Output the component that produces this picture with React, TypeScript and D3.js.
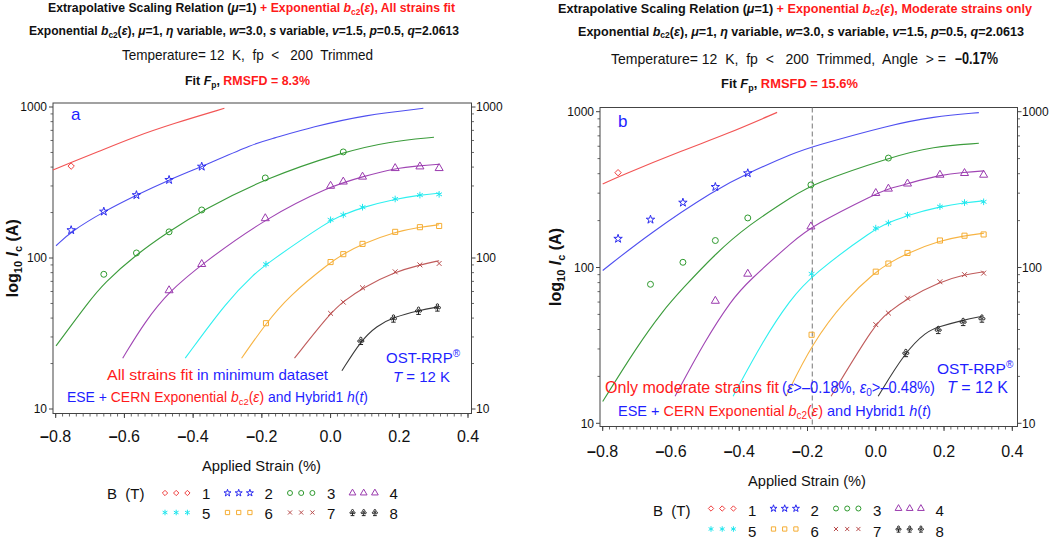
import React from "react";
import * as d3 from "d3";

type Pt = [number, number];

// ---------- axis ticks / categories ----------
const X_TICKS = [-0.8, -0.6, -0.4, -0.2, 0, 0.2, 0.4];
const Y_TICKS = [10, 100, 1000];
const FIELDS = ["1", "2", "3", "4", "5", "6", "7", "8"];
const ANGLE_CUT = -0.186;

// ---------- measured data (identical in both panels) ----------
const obsStrainB1 = [-0.755];
const obsIcB1 = [406];
const obsStrainB2 = [-0.755, -0.66, -0.565, -0.47, -0.375];
const obsIcB2 = [153, 203, 261, 329, 403];
const obsStrainB3 = [-0.66, -0.565, -0.47, -0.375, -0.19, 0.037];
const obsIcB3 = [78, 108, 149, 208, 339, 504];
const obsStrainB4 = [-0.47, -0.375, -0.19, 0.0, 0.037, 0.093, 0.188, 0.26, 0.316];
const obsIcB4 = [61, 91, 183, 300, 320, 345, 393, 403, 393];
const obsStrainB5 = [-0.188, 0.0, 0.037, 0.093, 0.188, 0.26, 0.316];
const obsIcB5 = [91, 179, 193, 217, 246, 261, 264];
const obsStrainB6 = [-0.188, 0.0, 0.037, 0.093, 0.188, 0.26, 0.316];
const obsIcB6 = [37, 94, 106, 124, 149, 160, 163];
const obsStrainB7 = [0.0, 0.037, 0.093, 0.188, 0.26, 0.316];
const obsIcB7 = [43, 51, 63.5, 81, 90, 92];
const obsStrainB8 = [0.088, 0.183, 0.256, 0.311];
const obsIcB8 = [28.3, 39.8, 44.8, 47.1];

// ---------- fit curves, panel a (all strains) ----------
const fitA_B1: Pt[] = [[-0.808, 383], [-0.755, 430], [-0.681, 501], [-0.574, 631], [-0.458, 777], [-0.309, 980]];
const fitA_B2: Pt[] = [[-0.799, 120.5], [-0.755, 150], [-0.66, 203], [-0.565, 261], [-0.47, 329], [-0.375, 403], [-0.22, 575], [-0.176, 611], [-0.05, 741], [0.1, 885], [0.27, 980]];
const fitA_B3: Pt[] = [[-0.799, 26.2], [-0.705, 51], [-0.66, 68], [-0.565, 106], [-0.47, 150], [-0.375, 206], [-0.19, 337], [0.037, 504], [0.168, 589], [0.301, 630]];
const fitA_B4: Pt[] = [[-0.605, 21.7], [-0.54, 38], [-0.47, 60], [-0.375, 91], [-0.19, 183], [0.0, 300], [0.093, 345], [0.188, 393], [0.26, 409], [0.316, 417]];
const fitA_B5: Pt[] = [[-0.423, 21.7], [-0.299, 52.7], [-0.22, 79], [-0.188, 91], [0.0, 179], [0.037, 193], [0.093, 217], [0.188, 246], [0.26, 261], [0.316, 269]];
const fitA_B6: Pt[] = [[-0.259, 21.7], [-0.188, 36.9], [-0.123, 55.5], [0.0, 94], [0.037, 106], [0.093, 124], [0.188, 149], [0.26, 160], [0.316, 166]];
const fitA_B7: Pt[] = [[-0.105, 21.7], [0.0, 43.4], [0.037, 51.4], [0.093, 63.5], [0.188, 81], [0.26, 90], [0.316, 96]];
const fitA_B8: Pt[] = [[0.033, 17.9], [0.088, 28.3], [0.134, 35.5], [0.183, 40.5], [0.256, 45], [0.316, 47.5]];

// ---------- fit curves, panel b (moderate strains only) ----------
const fitB_B1: Pt[] = [[-0.8, 343], [-0.753, 384], [-0.559, 572], [-0.442, 710], [-0.289, 990]];
const fitB_B2: Pt[] = [[-0.8, 95.7], [-0.662, 166], [-0.471, 315], [-0.375, 403], [-0.237, 546], [-0.186, 597], [0.042, 822], [0.168, 929], [0.302, 986]];
const fitB_B3: Pt[] = [[-0.8, 13.8], [-0.7, 31], [-0.623, 53], [-0.569, 72], [-0.471, 122], [-0.375, 186], [-0.237, 292], [-0.186, 343], [0.042, 510], [0.168, 597], [0.302, 627]];
const fitB_B4: Pt[] = [[-0.588, 14.9], [-0.5, 34], [-0.422, 62], [-0.375, 81], [-0.237, 151], [-0.186, 185], [0.003, 300], [0.037, 320], [0.093, 345], [0.188, 393], [0.26, 409], [0.317, 417]];
const fitB_B5: Pt[] = [[-0.418, 14.9], [-0.33, 34], [-0.251, 62], [-0.186, 89.8], [0.0, 179], [0.037, 193], [0.093, 217], [0.188, 246], [0.26, 261], [0.317, 268]];
const fitB_B6: Pt[] = [[-0.263, 14.9], [-0.186, 32.7], [-0.09, 62], [0.0, 94], [0.037, 106], [0.093, 124], [0.188, 149], [0.26, 160], [0.317, 166]];
const fitB_B7: Pt[] = [[-0.131, 14.9], [0.0, 44.4], [0.037, 51.4], [0.085, 62], [0.188, 81], [0.26, 90], [0.317, 94]];
const fitB_B8: Pt[] = [[0.007, 14.9], [0.085, 28.5], [0.149, 38.9], [0.183, 41.5], [0.256, 46], [0.31, 48.5]];

// ---------- styles ----------
const FONT = "'Liberation Sans', Arial, Helvetica, sans-serif";
const RED = "#ff1a1a";
const BLUE = "#1f1fff";
const LINE_COLORS = ["#f25555", "#5050f0", "#3c9c3c", "#a046b4", "#2ef0f0", "#f7b444", "#c05c5c", "#3a3a3a"];
const MARK_COLORS = ["#f04040", "#2b2bf0", "#2f9a2f", "#9a3aae", "#1ee6ee", "#f5ad33", "#b84c4c", "#222222"];

type Ctx = { moveTo: (x: number, y: number) => void; lineTo: (x: number, y: number) => void; arc: (...a: number[]) => void; closePath: () => void };
const mkSym = (fn: (c: Ctx, r: number) => void) => ({ draw(ctx: any, size: number) { fn(ctx, Math.sqrt(size) / 2); } });
const symDiamond = mkSym((c, r) => { const q = r * 1.3; c.moveTo(0, -q); c.lineTo(q, 0); c.lineTo(0, q); c.lineTo(-q, 0); c.closePath(); });
const symAst = mkSym((c, r) => {
  for (let k = 0; k < 3; k++) {
    const a = Math.PI / 2 + (k * Math.PI) / 3;
    c.moveTo(r * 1.25 * Math.cos(a), r * 1.25 * Math.sin(a));
    c.lineTo(-r * 1.25 * Math.cos(a), -r * 1.25 * Math.sin(a));
  }
});
const symTimes = mkSym((c, r) => { c.moveTo(-r, -r); c.lineTo(r, r); c.moveTo(r, -r); c.lineTo(-r, r); });
const symClub = mkSym((c, r) => {
  const cr = r * 0.4;
  const pts: Pt[] = [[0, -r * 0.8], [-r * 0.62, r * 0.1], [r * 0.62, r * 0.1]];
  pts.forEach(([px, py]) => { c.moveTo(px + cr, py); c.arc(px, py, cr, 0, Math.PI * 2); });
  c.moveTo(0, 0); c.lineTo(0, r * 1.25);
  c.moveTo(-r * 0.75, r * 1.25); c.lineTo(r * 0.75, r * 1.25);
});
const SYMBOLS: any[] = [symDiamond, d3.symbolStar, d3.symbolCircle, d3.symbolTriangle, symAst, d3.symbolSquare, symTimes, symClub];
const SYM_SIZE = [24, 22, 28, 28, 28, 26, 24, 36];

const OBS_STRAIN = [obsStrainB1, obsStrainB2, obsStrainB3, obsStrainB4, obsStrainB5, obsStrainB6, obsStrainB7, obsStrainB8];
const OBS_IC = [obsIcB1, obsIcB2, obsIcB3, obsIcB4, obsIcB5, obsIcB6, obsIcB7, obsIcB8];
const FITS_A = [fitA_B1, fitA_B2, fitA_B3, fitA_B4, fitA_B5, fitA_B6, fitA_B7, fitA_B8];
const FITS_B = [fitB_B1, fitB_B2, fitB_B3, fitB_B4, fitB_B5, fitB_B6, fitB_B7, fitB_B8];

type Layout = {
  l: number; r: number; t: number; b: number;
  xr: [number, number]; yr: [number, number];
  xLabY: number; yLabX: number; axTitleY: number; axTitleX: number; axTitleLen: number;
  legX: number; legBX: number; legRows: [number, number]; legSymDy: number;
};

const LAYOUT_A: Layout = {
  l: 53, r: 471.5, t: 103, b: 413.5, xr: [55.7, 468], yr: [409, 107],
  xLabY: 442, yLabX: 18, axTitleY: 471, axTitleX: 202, axTitleLen: 119,
  legX: 165, legBX: 107, legRows: [499, 518.5], legSymDy: -6,
};
const LAYOUT_B: Layout = {
  l: 600, r: 1017.5, t: 107.5, b: 426.5, xr: [602.7, 1012.3], yr: [423.3, 111.7],
  xLabY: 457, yLabX: 561, axTitleY: 485.5, axTitleX: 748, axTitleLen: 118,
  legX: 711, legBX: 653, legRows: [516, 536.5], legSymDy: -7.5,
};

const Bc2 = ({ fs }: { fs: number }) => (
  <>
    <tspan fontStyle="italic">b</tspan>
    <tspan dy={fs * 0.22} fontSize={fs * 0.68}>c2</tspan>
    <tspan dy={-fs * 0.22}>(</tspan>
    <tspan fontStyle="italic">ε</tspan>)
  </>
);

function Panel({ L, fits, dashed }: { L: Layout; fits: Pt[][]; dashed?: boolean }) {
  const xs = d3.scaleLinear().domain([-0.8, 0.4]).range(L.xr);
  const ys = d3.scaleLog().domain([10, 1000]).range(L.yr);
  const line = d3.line<Pt>().x((d) => xs(d[0])).y((d) => ys(d[1])).curve(d3.curveBasis);
  const minorX = d3.range(0, 61).map((i) => -0.8 + i * 0.02);
  const minorY: number[] = [];
  [10, 100].forEach((dec) => { for (let k = 2; k <= 9; k++) minorY.push(dec * k); });
  const axisCol = "#444";

  return (
    <g>
      <rect x={L.l} y={L.t} width={L.r - L.l} height={L.b - L.t} fill="none" stroke={axisCol} strokeWidth={1} />
      {minorX.map((v, i) => (
        <line key={"mx" + i} x1={xs(v)} x2={xs(v)} y1={L.b} y2={L.b + 3} stroke={axisCol} strokeWidth={0.8} />
      ))}
      {X_TICKS.map((v) => (
        <g key={"xt" + v}>
          <line x1={xs(v)} x2={xs(v)} y1={L.b} y2={L.b + 4.5} stroke={axisCol} strokeWidth={1} />
          <text x={xs(v)} y={L.xLabY} textAnchor="middle" fontSize={16} fontFamily={FONT} fill="#111">
            {v < 0 ? <tspan fontWeight="bold">–</tspan> : null}
            {Math.abs(v).toFixed(1)}
          </text>
        </g>
      ))}
      {minorY.map((v) => (
        <g key={"my" + v}>
          <line x1={L.l - 2.5} x2={L.l} y1={ys(v)} y2={ys(v)} stroke={axisCol} strokeWidth={0.8} />
          <line x1={L.r} x2={L.r + 2.5} y1={ys(v)} y2={ys(v)} stroke={axisCol} strokeWidth={0.8} />
        </g>
      ))}
      {Y_TICKS.map((v) => (
        <g key={"yt" + v}>
          <line x1={L.l - 4} x2={L.l} y1={ys(v)} y2={ys(v)} stroke={axisCol} strokeWidth={1} />
          <line x1={L.r} x2={L.r + 4} y1={ys(v)} y2={ys(v)} stroke={axisCol} strokeWidth={1} />
          <text x={L.l - 6} y={ys(v) + 4.3} textAnchor="end" fontSize={12} fontFamily={FONT} fill="#111">{v}</text>
          <text x={L.r + 4.5} y={ys(v) + 4.3} textAnchor="start" fontSize={12} fontFamily={FONT} fill="#111">{v}</text>
        </g>
      ))}
      <text transform={`translate(${L.yLabX},${(L.t + L.b) / 2}) rotate(-90)`} textAnchor="middle" fontSize={16} fontWeight="bold" fontFamily={FONT} fill="#111">
        log<tspan dy={3.5} fontSize={11}>10</tspan>
        <tspan dy={-3.5}> </tspan>
        <tspan fontStyle="italic">I</tspan>
        <tspan dy={3.5} fontSize={11}>c</tspan>
        <tspan dy={-3.5}> (A)</tspan>
      </text>
      <text x={L.axTitleX} y={L.axTitleY} fontSize={15} fontFamily={FONT} fill="#111" textLength={L.axTitleLen} lengthAdjust="spacingAndGlyphs">
        Applied Strain (%)
      </text>
      {dashed ? (
        <line x1={xs(ANGLE_CUT)} x2={xs(ANGLE_CUT)} y1={L.t} y2={L.b} stroke="#777" strokeWidth={1} strokeDasharray="5,3" />
      ) : null}
      {fits.map((f, i) => (
        <path key={"f" + i} d={line(f) || ""} fill="none" stroke={LINE_COLORS[i]} strokeWidth={1.1} />
      ))}
      {OBS_STRAIN.map((arr, i) =>
        arr.map((s, j) => (
          <path
            key={"m" + i + "_" + j}
            d={d3.symbol().type(SYMBOLS[i]).size(SYM_SIZE[i])() || ""}
            transform={`translate(${xs(s)},${ys(OBS_IC[i][j])})`}
            fill="none"
            stroke={MARK_COLORS[i]}
            strokeWidth={1}
          />
        ))
      )}
      <text x={L.legBX} y={L.legRows[0]} fontSize={15} fontFamily={FONT} fill="#111" style={{ whiteSpace: "pre" }}>{"B  (T)"}</text>
      {FIELDS.map((lab, i) => {
        const row = i < 4 ? 0 : 1;
        const col = i % 4;
        const x0 = L.legX + col * 62.5;
        const yb = L.legRows[row];
        return (
          <g key={"lg" + i}>
            {[0, 1, 2].map((k) => (
              <path
                key={k}
                d={d3.symbol().type(SYMBOLS[i]).size(SYM_SIZE[i] * 0.7)() || ""}
                transform={`translate(${x0 + k * 11.2},${yb + L.legSymDy})`}
                fill="none"
                stroke={MARK_COLORS[i]}
                strokeWidth={1}
              />
            ))}
            <text x={x0 + 37} y={yb} fontSize={15} fontFamily={FONT} fill="#111">{lab}</text>
          </g>
        );
      })}
    </g>
  );
}

export default function App() {
  const bold = { fontFamily: FONT, fontWeight: "bold" as const, fill: "#111" };
  const reg = { fontFamily: FONT, fill: "#111" };
  return (
    <svg width={1050} height={540} viewBox="0 0 1050 540" style={{ position: "absolute", left: 0, top: 0, display: "block", background: "#fff" }}>
      <rect x={0} y={0} width={1050} height={540} fill="#fff" />

      {/* ---------- Panel a titles ---------- */}
      <text x={48} y={12} fontSize={12.5} {...bold} textLength={407} lengthAdjust="spacingAndGlyphs">
        Extrapolative Scaling Relation (<tspan fontStyle="italic">μ</tspan>=1) <tspan fill={RED}>+ Exponential <Bc2 fs={12.5} />, All strains fit</tspan>
      </text>
      <text x={29} y={35} fontSize={12.5} {...bold} textLength={430} lengthAdjust="spacingAndGlyphs">
        Exponential <Bc2 fs={12.5} />, <tspan fontStyle="italic">μ</tspan>=1, <tspan fontStyle="italic">η</tspan> variable, <tspan fontStyle="italic">w</tspan>=3.0, <tspan fontStyle="italic">s</tspan> variable, <tspan fontStyle="italic">v</tspan>=1.5, <tspan fontStyle="italic">p</tspan>=0.5, <tspan fontStyle="italic">q</tspan>=2.0613
      </text>
      <text x={122} y={60} fontSize={15} {...reg} textLength={251} lengthAdjust="spacingAndGlyphs" style={{ whiteSpace: "pre" }}>
        {"Temperature= 12  K,  fp  <   200  Trimmed"}
      </text>
      <text x={185} y={85} fontSize={12.5} {...bold} textLength={125} lengthAdjust="spacingAndGlyphs">
        Fit <tspan fontStyle="italic">F</tspan><tspan dy={3} fontSize={8.5}>p</tspan><tspan dy={-3}>, </tspan><tspan fill={RED}> RMSFD = 8.3%</tspan>
      </text>

      {/* ---------- Panel b titles ---------- */}
      <text x={558} y={12.5} fontSize={12.5} {...bold} textLength={474} lengthAdjust="spacingAndGlyphs">
        Extrapolative Scaling Relation (<tspan fontStyle="italic">μ</tspan>=1) <tspan fill={RED}>+ Exponential <Bc2 fs={12.5} />, Moderate strains only</tspan>
      </text>
      <text x={578} y={35.5} fontSize={12.5} {...bold} textLength={446} lengthAdjust="spacingAndGlyphs">
        Exponential <Bc2 fs={12.5} />, <tspan fontStyle="italic">μ</tspan>=1, <tspan fontStyle="italic">η</tspan> variable, <tspan fontStyle="italic">w</tspan>=3.0, <tspan fontStyle="italic">s</tspan> variable, <tspan fontStyle="italic">v</tspan>=1.5, <tspan fontStyle="italic">p</tspan>=0.5, <tspan fontStyle="italic">q</tspan>=2.0613
      </text>
      <text x={611} y={64} fontSize={15} {...reg} textLength={335} lengthAdjust="spacingAndGlyphs" style={{ whiteSpace: "pre" }}>
        {"Temperature= 12  K,  fp  <   200  Trimmed,  Angle  > ="}
      </text>
      <text x={955} y={64} fontSize={16} {...bold} textLength={43} lengthAdjust="spacingAndGlyphs">–0.17%</text>
      <text x={721} y={88} fontSize={13} {...bold} textLength={137} lengthAdjust="spacingAndGlyphs">
        Fit <tspan fontStyle="italic">F</tspan><tspan dy={3} fontSize={9}>p</tspan><tspan dy={-3}>, </tspan><tspan fill={RED}> RMSFD = 15.6%</tspan>
      </text>

      <Panel L={LAYOUT_A} fits={FITS_A} />
      <Panel L={LAYOUT_B} fits={FITS_B} dashed />

      {/* ---------- Panel a annotations ---------- */}
      <text x={71} y={120} fontSize={17} fontFamily={FONT} fill={BLUE}>a</text>
      <text x={107} y={380} fontSize={15} fontFamily={FONT} fill={RED} textLength={86} lengthAdjust="spacingAndGlyphs">All strains fit</text>
      <text x={197} y={380} fontSize={15} fontFamily={FONT} fill={BLUE} textLength={131} lengthAdjust="spacingAndGlyphs">in minimum dataset</text>
      <text x={67} y={402} fontSize={14} fontFamily={FONT} fill={BLUE} textLength={301} lengthAdjust="spacingAndGlyphs">
        ESE + <tspan fill={RED}>CERN Exponential <Bc2 fs={14} /></tspan> and Hybrid1 <tspan fontStyle="italic">h</tspan>(<tspan fontStyle="italic">t</tspan>)
      </text>
      <text x={386} y={363} fontSize={15} fontFamily={FONT} fill={BLUE}>
        OST-RRP<tspan dy={-6} fontSize={10}>®</tspan>
      </text>
      <text x={393} y={381.5} fontSize={15} fontFamily={FONT} fill={BLUE}>
        <tspan fontStyle="italic">T</tspan> = 12 K
      </text>

      {/* ---------- Panel b annotations ---------- */}
      <text x={618} y={126.5} fontSize={17} fontFamily={FONT} fill={BLUE}>b</text>
      <text x={605} y={393} fontSize={16} fontFamily={FONT} fill={RED} textLength={174} lengthAdjust="spacingAndGlyphs">Only moderate strains fit</text>
      <text x={782} y={393} fontSize={16} fontFamily={FONT} fill={BLUE} textLength={153} lengthAdjust="spacingAndGlyphs">
        (<tspan fontStyle="italic">ε</tspan>&gt;–0.18%, <tspan fontStyle="italic">ε</tspan><tspan dy={3} fontSize={11}>0</tspan><tspan dy={-3}>&gt;–0.48%)</tspan>
      </text>
      <text x={947} y={393} fontSize={16} fontFamily={FONT} fill={BLUE}>
        <tspan fontStyle="italic">T</tspan> = 12 K
      </text>
      <text x={937} y={374} fontSize={15.5} fontFamily={FONT} fill={BLUE}>
        OST-RRP<tspan dy={-6} fontSize={10}>®</tspan>
      </text>
      <text x={618} y={416} fontSize={15} fontFamily={FONT} fill={BLUE} textLength={313} lengthAdjust="spacingAndGlyphs">
        ESE + <tspan fill={RED}>CERN Exponential <Bc2 fs={15} /></tspan> and Hybrid1 <tspan fontStyle="italic">h</tspan>(<tspan fontStyle="italic">t</tspan>)
      </text>
    </svg>
  );
}
